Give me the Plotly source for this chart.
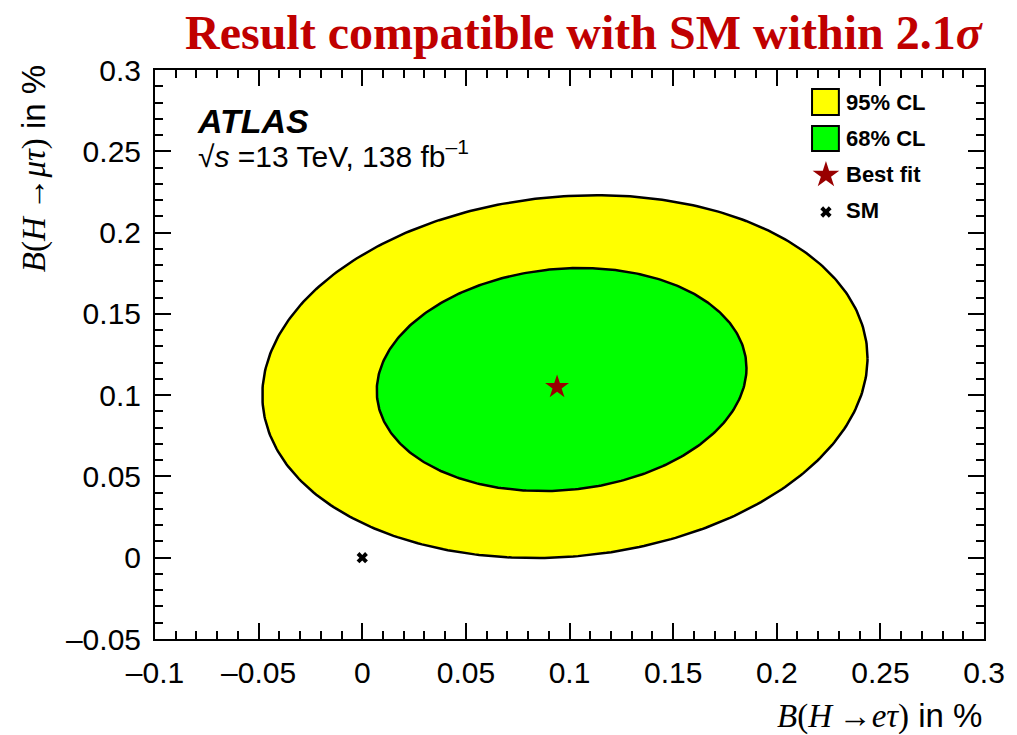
import numpy as np
import plotly.graph_objects as go

# ---------------- data (values in %) ----------------
cl95_center = [0.0978, 0.1114]
cl95_sigma = [0.146, 0.1116]
cl95_cov = 0.00166
cl68_center = [0.0962, 0.1096]
cl68_sigma = [0.0892, 0.0686]
cl68_cov = 0.00063
best_fit = [0.094, 0.105]
sm_point = [0.0, 0.0]

x_tickvals = [-0.1, -0.05, 0, 0.05, 0.1, 0.15, 0.2, 0.25, 0.3]
x_ticktext = ["\u20130.1", "\u20130.05", "0", "0.05", "0.1", "0.15", "0.2", "0.25", "0.3"]
y_tickvals = [-0.05, 0, 0.05, 0.1, 0.15, 0.2, 0.25, 0.3]
y_ticktext = ["\u20130.05", "0", "0.05", "0.1", "0.15", "0.2", "0.25", "0.3"]
legend_labels = ["95% CL", "68% CL", "Best fit", "SM"]

# ---------------- geometry helpers ----------------
W, H = 1017, 735
L, R, T, B = 155, 28, 70, 96
PW, PH = W - L - R, H - T - B


def px(xp):
    return (xp - L) / PW


def py(yp):
    return (H - B - yp) / PH


def contour(center, sigma, cov, n=400):
    t = np.linspace(0, 2 * np.pi, n)
    l11 = sigma[0]
    l21 = cov / sigma[0]
    l22 = np.sqrt(sigma[1] ** 2 - l21 ** 2)
    x = center[0] + l11 * np.cos(t)
    y = center[1] + l21 * np.cos(t) + l22 * np.sin(t)
    return x, y


YELLOW = "#FFFF00"
GREEN = "#00FF00"
STAR = "#990000"
SANS = "Liberation Sans"
SERIF = "Liberation Serif"

fig = go.Figure()

x95, y95 = contour(cl95_center, cl95_sigma, cl95_cov)
fig.add_trace(go.Scatter(x=x95, y=y95, mode="lines", fill="toself", fillcolor=YELLOW,
                         line=dict(color="black", width=2.5), showlegend=False, hoverinfo="skip"))
x68, y68 = contour(cl68_center, cl68_sigma, cl68_cov)
fig.add_trace(go.Scatter(x=x68, y=y68, mode="lines", fill="toself", fillcolor=GREEN,
                         line=dict(color="black", width=2.5), showlegend=False, hoverinfo="skip"))
fig.add_trace(go.Scatter(x=[best_fit[0]], y=[best_fit[1]], mode="markers",
                         marker=dict(symbol="star", size=18, color=STAR, line=dict(width=0)),
                         showlegend=False))
fig.add_trace(go.Scatter(x=[sm_point[0]], y=[sm_point[1]], mode="markers",
                         marker=dict(symbol="x", size=10, color="black", line=dict(width=0)),
                         showlegend=False))

# ---------------- legend (manual) ----------------
fig.add_trace(go.Scatter(x=[px(830)], y=[py(175)], xaxis="x2", yaxis="y2", mode="markers",
                         marker=dict(symbol="star", size=20, color=STAR, line=dict(width=0)),
                         showlegend=False, hoverinfo="skip"))
fig.add_trace(go.Scatter(x=[px(830)], y=[py(212)], xaxis="x2", yaxis="y2", mode="markers",
                         marker=dict(symbol="x", size=10, color="black", line=dict(width=0)),
                         showlegend=False, hoverinfo="skip"))

shapes = []
for (y0, y1, col) in [(89, 115, YELLOW), (126, 151, GREEN)]:
    shapes.append(dict(type="rect", xref="paper", yref="paper", x0=px(816), x1=px(843),
                       y0=py(y1), y1=py(y0), fillcolor=col, line=dict(color="black", width=2)))

annotations = []
for lab, yc in zip(legend_labels, [102, 138, 174, 210]):
    annotations.append(dict(text="<b>" + lab + "</b>", xref="paper", yref="paper", x=px(848), y=py(yc),
                            xanchor="left", yanchor="middle", showarrow=False,
                            font=dict(family=SANS, size=22, color="black")))

# ATLAS label
annotations.append(dict(text="<b><i>ATLAS</i></b>", xref="paper", yref="paper", x=px(195), y=py(121),
                        xanchor="left", yanchor="middle", showarrow=False,
                        font=dict(family=SANS, size=34, color="black")))
annotations.append(dict(text="\u221a<i>s</i> =13 TeV, 138 fb<sup>\u20131</sup>", xref="paper", yref="paper",
                        x=px(196), y=py(154), xanchor="left", yanchor="middle", showarrow=False,
                        font=dict(family=SANS, size=30, color="black")))

# Title
annotations.append(dict(text="<b>Result compatible with SM within 2.1<i>\u03c3</i></b>", xref="paper", yref="paper",
                        x=px(587), y=py(33), xanchor="center", yanchor="middle", showarrow=False,
                        font=dict(family=SERIF, size=48, color="#C00000")))

# axis titles
SER = '<span style="font-family:Liberation Serif">'
annotations.append(dict(text=SER + '<i>B</i>(<i>H</i></span>\u2009\u2192' + SER + '<i>e\u03c4</i>)</span> in %',
                        xref="paper", yref="paper", x=px(989), y=py(716), xanchor="right", yanchor="middle",
                        showarrow=False, font=dict(family=SANS, size=33, color="black")))
annotations.append(dict(text=SER + '<i>B</i>(<i>H</i></span>\u2009\u2192' + SER + '<i>\u03bc\u03c4</i>)</span> in %',
                        xref="paper", yref="paper", x=px(33), y=py(63), xanchor="center", yanchor="top",
                        textangle=-90, showarrow=False, font=dict(family=SANS, size=33, color="black")))

axis_common = dict(showgrid=False, zeroline=False, showline=True, linecolor="black", linewidth=2,
                   mirror="allticks", ticks="inside", ticklen=16, tickwidth=1.5, tickcolor="black",
                   ticklabelstandoff=6,
                   tickfont=dict(family=SANS, size=30, color="black"),
                   minor=dict(ticks="inside", ticklen=8, tickwidth=1.5, tickcolor="black", dtick=0.01))

fig.update_layout(
    width=W, height=H,
    margin=dict(l=L, r=R, t=T, b=B),
    paper_bgcolor="white", plot_bgcolor="white",
    showlegend=False,
    xaxis=dict(range=[-0.1, 0.3], tickmode="array", tickvals=x_tickvals, ticktext=x_ticktext,
               **axis_common),
    yaxis=dict(range=[-0.05, 0.3], tickmode="array", tickvals=y_tickvals, ticktext=y_ticktext,
               **axis_common),
    xaxis2=dict(domain=[0, 1], range=[0, 1], overlaying="x", visible=False, fixedrange=True),
    yaxis2=dict(domain=[0, 1], range=[0, 1], overlaying="y", visible=False, fixedrange=True),
    shapes=shapes,
    annotations=annotations,
)

fig.write_html("out.html")
